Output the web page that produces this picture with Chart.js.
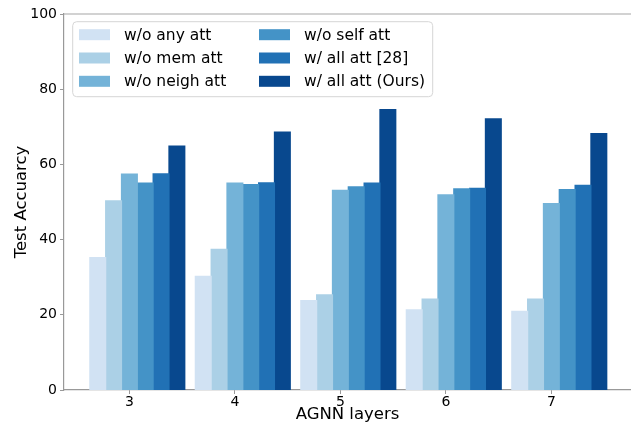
<!DOCTYPE html>
<html>
<head>
<meta charset="utf-8">
<script src="https://cdn.jsdelivr.net/npm/chart.js@4/dist/chart.umd.min.js"></script>
<style>
  html, body { margin: 0; padding: 0; background: #fff; overflow: hidden; }
  #wrap { width: 631px; height: 425px; position: relative; }
</style>
</head>
<body>
<div id="wrap"><canvas id="chart"></canvas></div>
<script>
// AGNN layers on the x axis
var layers = [3, 4, 5, 6, 7];
var seriesNames = ['w/o any att', 'w/o mem att', 'w/o neigh att', 'w/o self att', 'w/ all att [28]', 'w/ all att (Ours)'];
var seriesColors = ['#d1e2f3', '#abd0e6', '#74b3d8', '#4493c7', '#2171b5', '#08488e'];

var anyAtt = [35.2, 30.2, 23.8, 21.3, 20.9];
var memAtt = [50.3, 37.4, 25.3, 24.2, 24.2];
var neighAtt = [57.4, 55.0, 53.1, 51.9, 49.6];
var selfAtt = [55.0, 54.6, 54.0, 53.5, 53.3];
var allAtt28 = [57.5, 55.1, 55.0, 53.6, 54.4];
var allAttOurs = [64.9, 68.6, 74.6, 72.1, 68.2];

var yTicks = [0, 20, 40, 60, 80, 100];

var allSeries = [anyAtt, memAtt, neighAtt, selfAtt, allAtt28, allAttOurs];
var groupWidth = 0.9;
// tick sits on the middle of the third bar, like the original plot
var tickShift = groupWidth / seriesNames.length / 2;

var datasets = allSeries.map(function (vals, i) {
  return {
    label: seriesNames[i],
    data: vals.map(function (v, j) { return { x: layers[j], y: v }; }),
    backgroundColor: seriesColors[i],
    borderWidth: 0,
    inflateAmount: 0.6,
    barPercentage: 1,
    categoryPercentage: groupWidth
  };
});

var font = "'DejaVu Sans', sans-serif";

// box legend inside the plot, two columns
var boxLegend = {
  id: 'boxLegend',
  afterDraw: function (chart) {
    var ctx = chart.ctx;
    var a = chart.chartArea;
    var bx = a.left + 8.7, by = a.top + 7.7, bw = 360, bh = 75;
    ctx.save();
    ctx.beginPath();
    ctx.roundRect(bx, by, bw, bh, 4);
    ctx.fillStyle = 'rgba(255,255,255,0.85)';
    ctx.fill();
    ctx.strokeStyle = '#d6d6d6';
    ctx.lineWidth = 1;
    ctx.stroke();
    ctx.font = '15.5px ' + font;
    ctx.textBaseline = 'middle';
    for (var i = 0; i < seriesNames.length; i++) {
      var col = Math.floor(i / 3), row = i % 3;
      var cy = a.top + 20.7 + row * 23.3;
      var sx = a.left + 15 + col * 180;
      ctx.fillStyle = seriesColors[i];
      ctx.fillRect(sx, cy - 5.5, 31, 11);
      ctx.fillStyle = '#000';
      ctx.fillText(seriesNames[i], sx + 45, cy + 1);
    }
    ctx.restore();
  }
};

var topSpine = {
  id: 'topSpine',
  afterDraw: function (chart) {
    var ctx = chart.ctx, a = chart.chartArea;
    ctx.save();
    ctx.strokeStyle = '#a6a6a6';
    ctx.lineWidth = 1.2;
    ctx.beginPath();
    ctx.moveTo(a.left, a.top);
    ctx.lineTo(a.right + 2, a.top);
    ctx.stroke();
    ctx.restore();
  }
};

new Chart(document.getElementById('chart'), {
  type: 'bar',
  data: { datasets: datasets },
  plugins: [boxLegend, topSpine],
  options: {
    responsive: true,
    maintainAspectRatio: false,
    animation: false,
    layout: { padding: { top: 14, right: 0, left: 0, bottom: 0 } },
    plugins: { legend: { display: false }, tooltip: { enabled: false } },
    scales: {
      x: {
        type: 'linear',
        offset: false,
        min: 2.305,
        max: 7.68,
        afterBuildTicks: function (scale) {
          scale.ticks = layers.map(function (v) { return { value: v - tickShift }; });
        },
        afterFit: function (scale) { scale.height = 35; },
        ticks: {
          color: '#000',
          font: { family: font, size: 14 },
          padding: 0,
          maxRotation: 0,
          callback: function (v) { return Math.round(v); }
        },
        grid: { offset: false, drawOnChartArea: false, tickLength: 4, color: '#999', tickWidth: 1 },
        border: { color: '#999', width: 1.2 },
        title: {
          display: true,
          text: 'AGNN layers',
          color: '#000',
          font: { family: font, size: 16.5 },
          padding: { top: 0, bottom: 0 }
        }
      },
      y: {
        min: 0,
        max: 100,
        afterBuildTicks: function (scale) {
          scale.ticks = yTicks.map(function (v) { return { value: v }; });
        },
        afterFit: function (scale) { scale.width = 64; },
        ticks: {
          color: '#000',
          font: { family: font, size: 14 },
          padding: 3
        },
        grid: { drawOnChartArea: false, tickLength: 4, color: '#999', tickWidth: 1 },
        border: { color: '#999', width: 1.2 },
        title: {
          display: true,
          text: 'Test Accuarcy',
          color: '#000',
          font: { family: font, size: 16.5 },
          padding: { top: 12, bottom: 0 }
        }
      }
    }
  }
});
</script>
</body>
</html>
